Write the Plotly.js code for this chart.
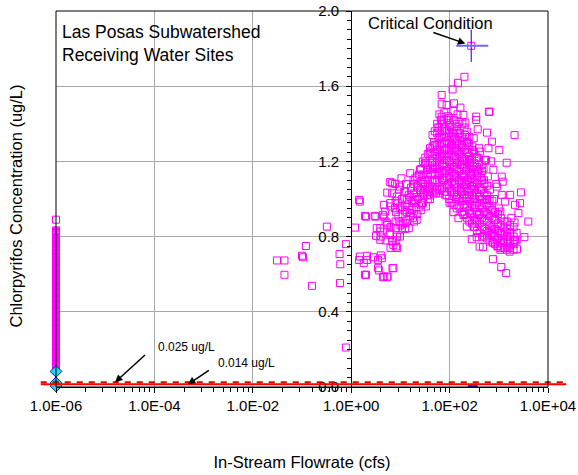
<!DOCTYPE html>
<html><head><meta charset="utf-8">
<script src="https://cdn.plot.ly/plotly-3.0.1.min.js"></script>
<style>html,body{margin:0;padding:0;background:#fff}#chart{width:578px;height:475px}</style>
</head><body><div id="chart"></div>
<script>
// ---------- DATA ----------
// Zero-flow samples plotted at 1.0E-06 cfs (they form a nearly solid column in the original)
const zeroFlowValue = 1.0e-6;
const zeroFlowConc = [0.100,0.104,0.109,0.113,0.119,0.122,0.127,0.132,0.136,0.141,0.146,0.150,0.155,0.159,0.163,0.168,0.173,0.177,0.182,0.186,0.190,0.195,0.201,0.204,0.209,0.214,0.218,0.223,0.227,0.231,0.236,0.241,0.245,0.250,0.255,0.259,0.264,0.268,0.272,0.277,0.282,0.287,0.291,0.295,0.300,0.305,0.309,0.314,0.318,0.322,0.327,0.332,0.336,0.341,0.346,0.350,0.354,0.359,0.364,0.369,0.373,0.377,0.382,0.386,0.391,0.396,0.400,0.405,0.410,0.414,0.418,0.423,0.428,0.432,0.437,0.441,0.445,0.450,0.455,0.460,0.464,0.468,0.473,0.478,0.482,0.487,0.491,0.496,0.500,0.505,0.510,0.514,0.518,0.523,0.528,0.532,0.537,0.541,0.546,0.551,0.555,0.559,0.564,0.569,0.573,0.578,0.582,0.587,0.592,0.596,0.600,0.605,0.610,0.614,0.619,0.623,0.628,0.633,0.637,0.641,0.646,0.651,0.655,0.660,0.664,0.669,0.674,0.678,0.682,0.687,0.692,0.696,0.701,0.706,0.712,0.716,0.722,0.728,0.733,0.738,0.744,0.748,0.753,0.760,0.765,0.771,0.776,0.781,0.787,0.792,0.796,0.801,0.806,0.810,0.815,0.819,0.824,0.828,0.833,0.890];
const zeroFlowNonDetect = [0.083,0.022,0.005];

// Scattered samples (flow cfs, concentration ug/L)
const sampleFlow = [0.031,0.044,0.044,0.1,0.105,0.12,0.16,0.32,0.58,0.6,0.59,0.78,0.78,1.2,1.45,1.5,2.0,1.9,1.45,1.8,1.5,2.1,1.9,2.0,2.8,2.1,3.0,3.1,3.2,3.5,3.7,3.5,4.2,4.4,4.6,5.4,5.5,6.9,7.2,3.3,3.9,3.9,3.9,4.4,4.6,4.9,5.4,5.4,6.0,6.2,6.2,6.8,6.8,6.8,7.2,8.1,8.1,8.5,8.5,8.5,7.8,7.8,9.1,9.8,9.8,10.7,5.4,6.2,4.6,
8.1,8.8,9.3,9.5,10,10.5,10.8,11,11.5,12,12.6,12.6,13,13.5,13.5,14,14.8,14.8,15.2,15.8,15.8,16.5,17,17.5,18,18.5,19,20,20,21.4,21,22,23,24,25,25,26,27.5,28,30,31.6,31.6,33,33,34.7,34.7,36,38,39,40,41,41,44,44,46,
48,50,51,51,53,55,57,60,60,63,65,65,67,69,69,69,70,72,74,76,78,80,82,85,87,87,90,92,95,95,98,100,100,102,105,108,112,115,118,120,120,122,123,126,129,132,135,138,141,141,141,145,148,151,151,155,160,166,166,170,175,178,178,182,185,191,191,191,195,200,200,205,209,215,219,224,224,224,230,235,240,250,255,263,263,270,275,282,290,300,309,309,309,309,320,331,331,340,347,347,355,360,372,380,389,400,407,417,417,430,450,479,490,490,500,525,540,550,575,575,575,600,617,631,646,660,700,724,724,724,759,759,776,800,851,870,912,912,933,1000,1023,1072,1072,1072,1122,1122,1148,1148,1202,1259,1300,1349,1349,1349,1413,1445,1500,1585,1660,1698,1698,1800,1995,1995,2089,2089,2138,2138,2344,2512,2692,2818,3311,3981];
const sampleConc = [0.673,0.673,0.597,0.698,0.69,0.75,0.538,0.853,0.707,0.653,0.553,0.76,0.21,0.848,0.995,0.986,0.906,0.91,0.676,0.659,0.694,0.676,0.597,0.597,0.69,0.698,0.91,0.906,0.804,0.632,0.62,0.676,0.685,0.584,0.588,0.584,0.588,0.632,0.632,0.845,0.783,0.827,0.845,0.916,0.969,0.933,0.862,0.871,0.81,0.818,0.978,0.774,1.03,1.084,0.756,0.747,0.845,0.739,0.8,1.013,0.951,1.08,0.906,0.8,1.066,0.845,1.034,1.09,0.906,
0.93,0.98,1.05,0.88,0.96,1.11,1.0,0.92,0.87,1.04,0.871,0.97,1.08,0.995,0.93,0.89,0.845,1.02,0.96,0.925,1.137,1.06,0.942,0.99,0.9,1.1,1.03,0.995,1.11,0.889,0.95,1.06,1.0,1.13,1.048,1.155,0.97,0.978,1.09,1.02,1.066,1.19,1.19,0.96,1.022,1.155,1.1,1.05,1.243,1.0,1.252,1.13,1.2,1.06,1.16,
1.3,1.1,1.287,1.172,1.03,1.22,1.38,1.323,1.14,1.26,1.225,1.05,1.42,1.553,1.504,1.438,1.33,1.18,1.1,1.42,1.26,1.37,1.02,1.15,1.5,1.208,1.3,1.44,1.332,1.08,1.24,0.98,1.16,1.394,1.05,1.28,1.287,1.583,1.35,1.468,0.93,1.12,1.509,1.23,1.08,1.4,1.0,1.3,1.385,1.19,1.022,1.45,1.618,0.898,1.25,1.1,1.33,1.486,1.18,1.04,1.27,1.287,1.225,1.4,1.12,1.447,0.969,0.915,1.2,1.65,1.06,1.34,1.406,1.15,1.075,1.358,1.0,0.853,1.25,1.1,1.3,1.02,1.19,1.208,0.925,1.13,1.05,0.786,1.28,1.17,1.323,1.252,1.066,0.853,1.0,0.889,0.969,1.22,1.438,1.42,0.797,1.1,1.371,1.15,0.915,1.27,0.747,1.252,1.013,1.05,1.18,0.744,0.933,1.164,1.1,1.208,1.0,1.208,1.353,0.81,0.995,1.12,1.27,1.464,1.464,1.05,1.2,1.305,0.942,0.836,0.768,0.68,1.155,1.0,0.889,1.08,1.066,0.783,0.747,0.95,1.26,0.933,0.818,0.73,0.765,0.638,1.119,1.022,1.092,0.783,0.88,0.986,0.827,0.739,0.606,1.193,0.8,0.747,0.72,0.82,1.022,0.9,0.73,0.774,0.875,1.34,0.969,0.783,0.733,0.925,0.978,1.035,0.797,0.88];

// Dense core of the cloud: one flow per column, with the concentrations read in that column
const coreFlow = [4,5,6.3,8,10,12.5,16,19,22,26,29,32,36,40,45,50,56,62,70,78,88,98,110,124,140,158,178,200,225,252,285,320,360,405,455,510,580,650,740,840,960,1100,1250,1450,1700,2000,2300];
const coreConc = [
 [0.70,0.80],
 [0.78,0.88],
 [0.74,0.85,0.96],
 [0.78,0.88,0.99],
 [0.86,0.95],
 [0.84,0.94,1.04],
 [0.91,1.01],
 [0.88,0.98,1.08],
 [0.92,1.01,1.07,1.12],
 [0.94,1.04,1.16],
 [0.98,1.03,1.08,1.13,1.20],
 [1.05,1.10,1.22],
 [1.00,1.04,1.08,1.13,1.18,1.24],
 [1.02,1.07,1.16,1.27],
 [1.03,1.09,1.14,1.19,1.23,1.28,1.34],
 [1.04,1.13,1.18,1.24,1.36],
 [1.05,1.10,1.16,1.20,1.25,1.29,1.35,1.40],
 [1.03,1.09,1.13,1.18,1.23,1.28,1.33,1.38,1.45],
 [1.06,1.11,1.15,1.21,1.24,1.30,1.36,1.40],
 [1.04,1.10,1.14,1.19,1.23,1.29,1.33,1.38,1.46],
 [1.02,1.07,1.12,1.17,1.22,1.27,1.31,1.36,1.42],
 [1.00,1.06,1.11,1.15,1.20,1.26,1.30,1.35,1.43],
 [0.98,1.04,1.09,1.14,1.18,1.23,1.29,1.33,1.38],
 [0.97,1.03,1.08,1.13,1.17,1.22,1.27,1.32,1.37,1.42],
 [0.95,1.01,1.06,1.11,1.16,1.21,1.26,1.31,1.36],
 [0.96,1.00,1.05,1.10,1.15,1.20,1.24,1.29,1.35,1.41],
 [0.93,0.99,1.04,1.09,1.13,1.18,1.22,1.28,1.33],
 [0.92,0.97,1.02,1.08,1.12,1.17,1.21,1.26,1.31,1.38],
 [0.90,0.96,1.01,1.05,1.10,1.16,1.20,1.25,1.30],
 [0.88,0.94,0.99,1.04,1.09,1.14,1.18,1.23,1.28,1.33],
 [0.87,0.92,0.97,1.02,1.07,1.11,1.16,1.21,1.26],
 [0.85,0.90,0.95,1.00,1.05,1.09,1.14,1.19,1.24],
 [0.83,0.88,0.93,0.98,1.03,1.08,1.12,1.17,1.22],
 [0.82,0.87,0.92,0.96,1.01,1.06,1.11,1.16],
 [0.80,0.85,0.90,0.95,1.00,1.05,1.10,1.15],
 [0.80,0.84,0.89,0.93,0.98,1.03,1.08],
 [0.79,0.83,0.88,0.92,0.97,1.02,1.07],
 [0.78,0.82,0.86,0.91,0.96,1.00],
 [0.77,0.81,0.85,0.90,0.94,0.99],
 [0.76,0.80,0.84,0.89,0.93],
 [0.75,0.79,0.83,0.87,0.92],
 [0.74,0.78,0.82,0.86,0.90],
 [0.74,0.77,0.81,0.85],
 [0.73,0.77,0.80,0.84,0.88],
 [0.74,0.78,0.82,0.86],
 [0.76,0.80,0.85],
 [0.78,0.82]
];

// Critical condition point and its cross
const criticalFlow = 275, criticalConc = 1.815;
const criticalFlowLow = 136, criticalFlowHigh = 609;
const criticalConcHalf = 0.086;
const bottomBlueFlow = [295], bottomBlueConc = [0.003];

// Criteria lines
const criteria = [{value:0.025, label:'0.025 ug/L'}, {value:0.014, label:'0.014 ug/L'}];

// Axis ticks
const xTickVals = [1e-6,1e-4,1e-2,1,1e2,1e4];
const xTickText = ['1.0E-06','1.0E-04','1.0E-02','1.0E+00','1.0E+02','1.0E+04'];
const yTickVals = [0,0.4,0.8,1.2,1.6,2.0];
const yTickText = ['0.0','0.4','0.8','1.2','1.6','2.0'];

// ---------- BUILD ----------
const allX = [], allY = [];
zeroFlowConc.forEach(v => { allX.push(zeroFlowValue); allY.push(v); });
sampleFlow.forEach((f,i) => { allX.push(f); allY.push(sampleConc[i]); });
coreFlow.forEach((f,i) => coreConc[i].forEach(v => { allX.push(f); allY.push(v); }));
allX.push(criticalFlow); allY.push(criticalConc);

// minor tick positions along x (8 per two-decade interval, as in the original software)
const xMinor = [];
for (let b = 0; b < 5; b++) { const lo = 1e-6 * Math.pow(100, b); for (let k = 2; k <= 9; k++) xMinor.push(lo * k * k); }

const FONT = 'Liberation Sans, Arial, Helvetica, sans-serif';
const MAG = '#FF00FF';

const traces = [
  {x: allX, y: allY, type: 'scatter', mode: 'markers', cliponaxis: false,
   marker: {symbol: 'square-open', size: 7, color: MAG, line: {width: 1, color: MAG}}, hoverinfo: 'x+y'},
  {x: zeroFlowNonDetect.map(() => zeroFlowValue), y: zeroFlowNonDetect, type: 'scatter', mode: 'markers', cliponaxis: false,
   marker: {symbol: 'diamond', size: 9, color: '#22D8F5', line: {width: 1, color: '#1020A0'}}},
  {x: [criticalFlow], y: [criticalConc], type: 'scatter', mode: 'markers', cliponaxis: false,
   marker: {symbol: 'square-open', size: 7, color: 'rgba(0,0,0,0)', line: {width: 0}},
   error_x: {type: 'data', symmetric: false, array: [criticalFlowHigh - criticalFlow], arrayminus: [criticalFlow - criticalFlowLow], color: '#6B6BFF', thickness: 2, width: 0},
   error_y: {type: 'data', array: [criticalConcHalf], color: '#0000E0', thickness: 1, width: 0}},
  {x: bottomBlueFlow, y: bottomBlueConc, type: 'scatter', mode: 'markers', cliponaxis: false,
   marker: {symbol: 'line-ew-open', size: 7, color: '#0000E0', line: {width: 2.5, color: '#0000E0'}}}
];

const shapes = [
  {type: 'line', xref: 'paper', yref: 'y', x0: -0.031, x1: 1.037, y0: criteria[1].value, y1: criteria[1].value, line: {color: '#FF0000', width: 2}},
  {type: 'line', xref: 'paper', yref: 'y', x0: -0.031, x1: 1.037, y0: criteria[0].value, y1: criteria[0].value, line: {color: '#E00000', width: 2, dash: '6px,6px'}},
  {type: 'rect', xref: 'paper', yref: 'paper', x0: 0, x1: 1, y0: 0, y1: 1, line: {color: '#000', width: 1}}
];

const annotations = [
  {xref: 'paper', yref: 'paper', x: 0.008, y: 0.975, xanchor: 'left', yanchor: 'top', align: 'left', showarrow: false,
   text: 'Las Posas Subwatershed<br>Receiving Water Sites', font: {family: FONT, size: 17.5, color: '#000'}},
  {xref: 'paper', yref: 'paper', x: 0.63, y: 0.969, xanchor: 'left', yanchor: 'middle', showarrow: false,
   text: 'Critical Condition', font: {family: FONT, size: 16.5, color: '#000'}},
  {xref: 'x', yref: 'y', x: Math.log10(209), y: 1.827, ax: -35, ay: -12, text: ' ', showarrow: true, arrowhead: 2, arrowsize: 1, arrowwidth: 1.5, arrowcolor: '#000', standoff: 0},
  {xref: 'paper', yref: 'paper', x: 0.203, y: 0.106, xanchor: 'left', yanchor: 'middle', showarrow: false,
   text: criteria[0].label, font: {family: FONT, size: 12, color: '#000'}},
  {xref: 'x', yref: 'y', x: -4.8, y: criteria[0].value, ax: 33, ay: -30, text: ' ', showarrow: true, arrowhead: 2, arrowsize: 1, arrowwidth: 1.5, arrowcolor: '#000', standoff: 0},
  {xref: 'paper', yref: 'paper', x: 0.325, y: 0.063, xanchor: 'left', yanchor: 'middle', showarrow: false,
   text: criteria[1].label, font: {family: FONT, size: 12, color: '#000'}},
  {xref: 'x', yref: 'y', x: -3.32, y: criteria[1].value, ax: 24, ay: -16, text: ' ', showarrow: true, arrowhead: 2, arrowsize: 1, arrowwidth: 1.5, arrowcolor: '#000', standoff: 0},
  {xref: 'paper', yref: 'paper', x: -0.0813, y: 0.48, xanchor: 'center', yanchor: 'middle', textangle: -90, showarrow: false,
   text: 'Chlorpyrifos Concentration (ug/L)', font: {family: FONT, size: 16.5, color: '#000'}}
];

const layout = {
  width: 578, height: 475,
  margin: {l: 56, r: 30, t: 11, b: 88},
  paper_bgcolor: '#fff', plot_bgcolor: '#fff',
  showlegend: false,
  font: {family: FONT, color: '#000'},
  xaxis: {
    type: 'log', range: [-6, 4], tickmode: 'array', tickvals: xTickVals, ticktext: xTickText,
    showgrid: true, gridcolor: '#A8A8A8', gridwidth: 1, zeroline: false,
    showline: true, linecolor: '#000', linewidth: 1,
    ticks: 'outside', ticklen: 5, tickcolor: '#000', tickfont: {family: FONT, size: 15, color: '#000'},
    minor: {tickmode: 'array', tickvals: xMinor, ticks: 'outside', ticklen: 4, tickcolor: '#000', showgrid: false},
    title: {text: 'In-Stream Flowrate (cfs)', font: {family: FONT, size: 16.5, color: '#000'}, standoff: 43},
    anchor: 'y'
  },
  yaxis: {
    range: [0, 2.0], tickmode: 'array', tickvals: yTickVals, ticktext: yTickText,
    anchor: 'free', position: 0.6,
    showgrid: true, gridcolor: '#A8A8A8', gridwidth: 1, zeroline: false,
    showline: true, linecolor: '#000', linewidth: 1,
    ticks: 'outside', ticklen: 5, tickcolor: '#000', tickfont: {family: FONT, size: 15, color: '#000'},
    minor: {dtick: 0.05, tick0: 0, ticks: 'outside', ticklen: 4, tickcolor: '#000', showgrid: false},
    ticklabelstandoff: 4
  },
  shapes: shapes,
  annotations: annotations
};

Plotly.newPlot('chart', traces, layout, {displayModeBar: false, staticPlot: true});
</script></body></html>
